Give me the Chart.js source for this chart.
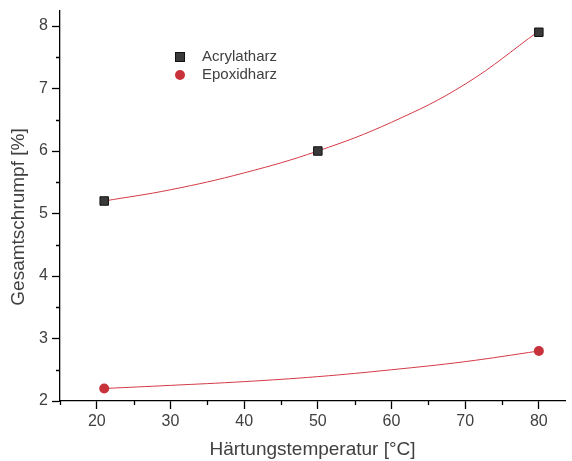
<!DOCTYPE html>
<html>
<head>
<meta charset="utf-8">
<script src="https://cdn.jsdelivr.net/npm/chart.js@4/dist/chart.umd.min.js"></script>
<style>
    body { margin: 0; background: #fff; }
    #wrap { position: relative; width: 572px; height: 461px; }
    .legend { position: absolute; left: 174px; top: 47px; font: 15px "Liberation Sans", Arial, sans-serif; color: #404040; }
    .legend div { height: 17.5px; line-height: 17.5px; white-space: nowrap; }
    .legend span.mark { display: inline-block; width: 12px; margin-right: 16px; text-align: center; vertical-align: middle; }
    .sq { display: inline-block; width: 8px; height: 8px; background: #3a3a3a; border: 1px solid #111; }
    .dot { display: inline-block; width: 10px; height: 10px; border-radius: 50%; background: #c8323a; }
</style>
</head>
<body>
<div id="wrap">
    <canvas id="chart"></canvas>
    <div class="legend">
        <div><span class="mark"><span class="sq"></span></span>Acrylatharz</div>
        <div><span class="mark"><span class="dot"></span></span>Epoxidharz</div>
    </div>
</div>
<script>
const temps = [21, 50, 80];
const acrylat = [5.2, 6.0, 7.9];
const epoxidTemps = [21, 80];
const epoxid = [2.2, 2.8];

// fit curves
const fitTemps = [21, 30, 40, 50, 60, 70, 80];
const acrylatFit = [5.2, 5.38, 5.65, 6.0, 6.46, 7.07, 7.92];
const epoxidFit = [2.2, 2.25, 2.31, 2.39, 2.5, 2.63, 2.8];

const xTicks = [20, 30, 40, 50, 60, 70, 80];
const xMinor = [15, 25, 35, 45, 55, 65, 75];
const yTicks = [2, 3, 4, 5, 6, 7, 8];
const yMinor = [2.5, 3.5, 4.5, 5.5, 6.5, 7.5];

const FONT = '"Liberation Sans", Arial, sans-serif';

function toPoints(xs, ys) {
    return xs.map((x, i) => ({ x: x, y: ys[i] }));
}

// minor ticks and the y axis title
const decor = {
    id: 'decor',
    afterDraw(chart) {
        const ctx = chart.ctx;
        const xs = chart.scales.x;
        const ys = chart.scales.y;
        ctx.save();
        ctx.strokeStyle = '#000';
        ctx.lineWidth = 1.3;
        ctx.beginPath();
        xMinor.forEach(v => {
            const px = Math.round(xs.getPixelForValue(v)) + 0.5;
            ctx.moveTo(px, ys.bottom);
            ctx.lineTo(px, ys.bottom + 4);
        });
        yMinor.forEach(v => {
            const py = Math.round(ys.getPixelForValue(v)) + 0.5;
            ctx.moveTo(xs.left, py);
            ctx.lineTo(xs.left - 4, py);
        });
        ctx.stroke();

        ctx.translate(19, 217);
        ctx.rotate(-Math.PI / 2);
        ctx.fillStyle = '#404040';
        ctx.font = '19px ' + FONT;
        ctx.textAlign = 'center';
        ctx.textBaseline = 'middle';
        ctx.fillText('Gesamtschrumpf [%]', 0, 0);
        ctx.restore();
    }
};

const ctx = document.getElementById('chart').getContext('2d');
const chart = new Chart(ctx, {
    type: 'scatter',
    data: {
        datasets: [
            {
                label: 'Acrylatharz',
                data: toPoints(temps, acrylat),
                pointStyle: 'rect',
                pointRadius: 6,
                backgroundColor: '#3a3a3a',
                borderColor: '#111',
                borderWidth: 1,
                order: 0
            },
            {
                label: 'Epoxidharz',
                data: toPoints(epoxidTemps, epoxid),
                pointStyle: 'circle',
                pointRadius: 5,
                backgroundColor: '#c8323a',
                borderWidth: 0,
                order: 0
            },
            {
                label: 'Fit Acrylatharz',
                data: toPoints(fitTemps, acrylatFit),
                showLine: true,
                pointRadius: 0,
                borderColor: '#d33a46',
                borderWidth: 1,
                tension: 0.4,
                order: 1
            },
            {
                label: 'Fit Epoxidharz',
                data: toPoints(fitTemps, epoxidFit),
                showLine: true,
                pointRadius: 0,
                borderColor: '#d33a46',
                borderWidth: 1,
                tension: 0.4,
                order: 1
            }
        ]
    },
    options: {
        responsive: true,
        maintainAspectRatio: false,
        animation: false,
        layout: { padding: { top: 11, right: 1 } },
        plugins: {
            legend: { display: false },
            tooltip: { enabled: false }
        },
        scales: {
            x: {
                type: 'linear',
                min: 15,
                max: 83.55,
                afterBuildTicks: s => { s.ticks = xTicks.map(v => ({ value: v })); },
                afterFit: s => { s.height = 60; s.paddingLeft = 0; s.paddingRight = 0; },
                grid: { drawOnChartArea: false, tickLength: 8, tickColor: '#000', tickWidth: 1.3 },
                border: { color: '#000', width: 1.3 },
                ticks: { color: '#404040', font: { family: FONT, size: 16 }, padding: 3, maxRotation: 0 },
                title: { display: true, text: 'Härtungstemperatur [°C]', color: '#404040', font: { family: FONT, size: 19 }, padding: 0 }
            },
            y: {
                type: 'linear',
                min: 2,
                max: 8.24,
                afterBuildTicks: s => { s.ticks = yTicks.map(v => ({ value: v })); },
                afterFit: s => { s.width = 60; s.paddingTop = 0; s.paddingBottom = 0; },
                grid: { drawOnChartArea: false, tickLength: 8, tickColor: '#000', tickWidth: 1.3 },
                border: { color: '#000', width: 1.3 },
                ticks: { color: '#404040', font: { family: FONT, size: 16 }, padding: 4 }
            }
        }
    },
    plugins: [decor]
});
</script>
</body>
</html>
